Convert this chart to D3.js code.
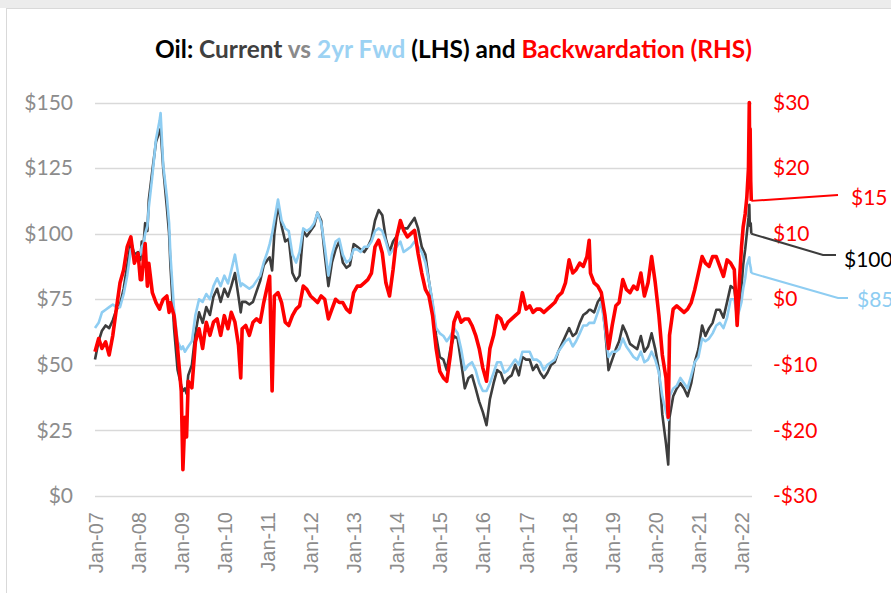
<!DOCTYPE html>
<html><head><meta charset="utf-8">
<script src="https://cdn.jsdelivr.net/npm/d3@7"></script>
<style>body{margin:0;background:#fff;} svg{display:block;}</style>
</head><body>
<script>
// ---------- DATA ----------
const dates = [
 "2007-01-01","2007-02-01","2007-03-01","2007-04-01","2007-05-01","2007-06-01","2007-07-01","2007-08-01","2007-09-01","2007-10-01","2007-11-01","2007-12-01",
 "2008-01-01","2008-01-20","2008-02-01","2008-02-15","2008-03-01","2008-03-20","2008-04-01","2008-05-01","2008-06-01","2008-07-01","2008-07-10","2008-08-01","2008-09-01","2008-09-20","2008-10-01","2008-11-01","2008-12-01",
 "2009-01-01","2009-01-15","2009-02-01","2009-02-15","2009-03-01","2009-04-01","2009-05-01","2009-06-01","2009-07-01","2009-08-01","2009-09-01","2009-10-01","2009-11-01","2009-12-01",
 "2010-01-01","2010-02-01","2010-03-01","2010-04-01","2010-05-01","2010-05-20","2010-06-01","2010-07-01","2010-08-01","2010-09-01","2010-10-01","2010-11-01","2010-12-01",
 "2011-01-01","2011-01-20","2011-02-10","2011-03-01","2011-04-01","2011-05-01","2011-06-01","2011-07-01","2011-08-01","2011-09-01","2011-10-01","2011-11-01","2011-12-01",
 "2012-01-01","2012-02-01","2012-03-01","2012-04-01","2012-05-01","2012-06-01","2012-07-01","2012-08-01","2012-09-01","2012-10-01","2012-11-01","2012-12-01",
 "2013-01-01","2013-02-01","2013-03-01","2013-04-01","2013-05-01","2013-06-01","2013-07-01","2013-08-01","2013-09-01","2013-10-01","2013-11-01","2013-12-01",
 "2014-01-01","2014-02-01","2014-03-01","2014-04-01","2014-05-01","2014-06-01","2014-07-01","2014-08-01","2014-09-01","2014-10-01","2014-11-01","2014-12-01",
 "2015-01-01","2015-02-01","2015-03-01","2015-04-01","2015-05-01","2015-06-01","2015-07-01","2015-08-01","2015-09-01","2015-10-01","2015-11-01","2015-12-01",
 "2016-01-01","2016-02-01","2016-03-01","2016-04-01","2016-05-01","2016-06-01","2016-07-01","2016-08-01","2016-09-01","2016-10-01","2016-11-01","2016-12-01",
 "2017-01-01","2017-02-01","2017-03-01","2017-04-01","2017-05-01","2017-06-01","2017-07-01","2017-08-01","2017-09-01","2017-10-01","2017-11-01","2017-12-01",
 "2018-01-01","2018-02-01","2018-03-01","2018-04-01","2018-05-01","2018-06-01","2018-06-20","2018-07-01","2018-08-01","2018-09-01","2018-10-01","2018-11-01","2018-12-01",
 "2019-01-01","2019-02-01","2019-03-01","2019-04-01","2019-05-01","2019-06-01","2019-07-01","2019-08-01","2019-09-01","2019-10-01","2019-11-01","2019-12-01",
 "2020-01-01","2020-02-01","2020-03-01","2020-04-01","2020-04-20","2020-05-01","2020-06-01","2020-07-01","2020-08-01","2020-09-01","2020-10-01","2020-11-01","2020-12-01",
 "2021-01-01","2021-02-01","2021-03-01","2021-04-01","2021-05-01","2021-06-01","2021-07-01","2021-08-01","2021-09-01","2021-10-01","2021-11-01","2021-11-25","2021-12-15",
 "2022-01-01","2022-01-15","2022-02-01","2022-02-15","2022-03-01","2022-03-08","2022-03-11","2022-03-15","2022-03-20","2022-03-25"
];
const current = [
 52,59,63,65,64,67,71,73,79,88,97,92,
 93,90,97,95,104,101,113,124,135,139,140,125,110,100,88,64,48,
 42,40,41,39,46,50,62,70,66,72,69,76,79,74,
 79,76,80,85,76,70,74,74,73,74,78,82,88,
 90,91,86,100,111,103,97,98,85,82,84,101,99,
 101,103,108,105,92,80,89,94,97,89,87,88,
 96,95,94,93,95,98,105,109,107,98,93,97,
 99,103,102,102,104,106,102,95,92,82,73,61,
 53,52,48,56,61,60,51,41,45,46,41,36,
 32,27,37,43,48,47,43,45,46,50,46,53,
 52,52,48,50,47,45,47,50,51,55,58,61,
 64,61,62,66,69,70,71,71,70,74,76,64,48,
 52,56,59,65,62,58,57,56,61,55,57,62,
 56,48,31,20,12,30,38,41,43,41,38,43,51,
 56,65,61,64,66,71,71,68,74,80,79,70,75,
 80,88,94,100,106,111,105,103,104,100
];
const forward2y = [
 64,66,70,71,72,73,72,72,77,84,94,91,
 92,92,95,96,100,103,110,122,136,143,146,126,114,104,92,71,59,
 56,57,55,56,57,59,69,75,74,77,75,80,83,80,
 84,81,86,92,84,80,81,80,79,80,82,84,89,
 93,96,100,105,113,105,102,101,92,89,93,102,101,
 102,104,108,104,95,84,92,97,98,92,89,90,
 94,94,93,95,95,97,101,102,101,97,92,94,
 95,97,93,94,95,97,95,93,89,82,74,64,
 62,61,59,61,64,62,56,48,50,51,48,43,
 40,40,43,47,51,51,47,48,50,52,50,55,
 55,55,52,52,51,48,50,51,52,55,57,59,
 60,57,59,62,65,65,66,66,66,70,74,64,53,
 55,55,56,60,57,55,53,52,55,51,52,55,
 52,47,38,32,29,38,41,42,45,43,41,46,51,
 53,60,59,60,62,65,66,64,68,75,75,68,71,
 74,79,83,88,90,91,89,88,87,85
];
const backwardation = [
 -8,-6,-7.5,-6.5,-8.5,-5.5,-1.5,2.5,4.5,8,9.5,5.5,
 7,3,3,6,8.5,2,5.5,1,-0.5,-1.5,-1,0,0.5,-2,-0.5,-2.5,-7.5,
 -14,-26,-18,-21,-12.5,-13.5,-6.5,-4.5,-7.5,-3.5,-5.5,-3.5,-3,-5.5,
 -2.5,-4.5,-2,-3.5,-7,-12,-4.5,-4,-5.5,-3.5,-3,-3.5,-0.5,
 2,3.5,-14,0.5,1,-0.5,-3.5,-4,-2.5,-1.5,-1,2,1.5,
 0.5,0,-0.5,0.5,0,-3,-1.5,0,-0.5,-0.5,-1.5,-2,
 1,2,2,2.5,3,4,8,9,7,2.5,0.5,4.5,
 9.5,12,10.5,9.5,10,10.5,7,4,1.5,0.5,-2.5,-7.5,
 -11,-12,-12.5,-8.5,-3.5,-2,-3.5,-3,-3,-4,-5.5,-7.5,
 -10.5,-12.5,-7.5,-5.5,-2.5,-3,-4.5,-3.5,-3,-2.5,-2,1,
 -1.5,-1,-2,-1.5,-1.5,-2,-1.5,-1,-0.5,0.5,1,2.5,
 6,4,4.5,5.5,5,6.5,9,4,2.5,2,1,-2.5,-7.5,
 -4,-1,-0.5,3,1.5,1,2,1.5,4,0.5,2.5,6.5,
 2.5,-2.5,-8.5,-12,-18,-5.5,-1.5,-1,-1.5,-2,-1.5,-0.5,1.5,
 4,6.5,5.5,5,6.5,6.5,5,3.5,6,5.5,4.5,-4,3,
 8,11,13,15.5,20,30,22,26,18,15
];
const leftTicks = [0,25,50,75,100,125,150];
const rightTicks = [-30,-20,-10,0,10,20,30];
const yearTicks = ["2007-01-01","2008-01-01","2009-01-01","2010-01-01","2011-01-01","2012-01-01","2013-01-01","2014-01-01",
                   "2015-01-01","2016-01-01","2017-01-01","2018-01-01","2019-01-01","2020-01-01","2021-01-01","2022-01-01"];
const titleParts = ["Oil: ","Current ","vs ","2yr Fwd ","(LHS) and ","Backwardation (RHS)"];
const endLabels = ["$15","$100","$85"];

// ---------- STYLE ----------
const C_CUR = "#3d3d3d", C_FWD = "#8ecdf2", C_BWD = "#ff0000";
const titleColors = ["#000000","#404040","#8a8a8a","#9cd2f3","#000000","#ff0000"];

const W = 891, H = 593;
const parse = d3.timeParse("%Y-%m-%d");
const D = dates.map(parse);

const svg = d3.select("body").append("svg").attr("width", W).attr("height", H);

// chart frame
svg.append("rect").attr("x",0).attr("y",0).attr("width",W).attr("height",H).attr("fill","#ffffff");
svg.append("rect").attr("x",0).attr("y",0).attr("width",W).attr("height",8).attr("fill","#ececec");
svg.append("rect").attr("x",6.5).attr("y",8.5).attr("width",W).attr("height",H).attr("fill","none").attr("stroke","#d9d9d9");

const plotL = 95, plotR = 752, plotT = 102.5, plotB = 496;
const x = d3.scaleTime().domain([parse("2007-01-01"), parse("2022-03-08")]).range([95, 749.3]);
const yL = d3.scaleLinear().domain([0,150]).range([plotB, plotT]);
const yR = d3.scaleLinear().domain([-30,30]).range([plotB, plotT]);

// gridlines
svg.append("g").selectAll("line").data(leftTicks).join("line")
  .attr("x1", plotL).attr("x2", plotR)
  .attr("y1", d => Math.round(yL(d))+0.5).attr("y2", d => Math.round(yL(d))+0.5)
  .attr("stroke","#d9d9d9").attr("stroke-width",1.5);

// left axis
const gL = svg.append("g").attr("transform",`translate(${plotL},0)`)
  .call(d3.axisLeft(yL).tickValues(leftTicks).tickSize(0).tickPadding(22).tickFormat(d => "$"+d));
gL.select(".domain").remove();
gL.selectAll("text").attr("font-family","Lato, 'Open Sans', sans-serif").attr("font-size",21).attr("fill","#8c8c8c");

// right axis
const gR = svg.append("g").attr("transform",`translate(${plotR},0)`)
  .call(d3.axisRight(yR).tickValues(rightTicks).tickSize(0).tickPadding(21)
        .tickFormat(d => d < 0 ? "-$"+(-d) : "$"+d));
gR.select(".domain").remove();
gR.selectAll("text").attr("font-family","Lato, 'Open Sans', sans-serif").attr("font-size",21).attr("fill","#ff0000");

// bottom axis
const gB = svg.append("g").attr("transform",`translate(0,${plotB})`)
  .call(d3.axisBottom(x).tickValues(yearTicks.map(parse)).tickSize(0).tickFormat(d3.timeFormat("Jan-%y")));
gB.select(".domain").remove();
gB.selectAll("text")
  .attr("font-family","'Liberation Sans', Arial, sans-serif").attr("font-size",20).attr("fill","#8c8c8c")
  .attr("text-anchor","end").attr("dy","0.35em").attr("y",0)
  .attr("transform","translate(0,16) rotate(-90)");

// series
const lineL = arr => d3.line().x((d,i) => x(D[i])).y((d) => yL(d))(arr);
const lineR = arr => d3.line().x((d,i) => x(D[i])).y((d) => yR(d))(arr);
svg.append("path").attr("d", lineL(current)).attr("fill","none").attr("stroke",C_CUR).attr("stroke-width",2.6).attr("stroke-linejoin","round");
svg.append("path").attr("d", lineL(forward2y)).attr("fill","none").attr("stroke",C_FWD).attr("stroke-width",2.6).attr("stroke-linejoin","round");
svg.append("path").attr("d", lineR(backwardation)).attr("fill","none").attr("stroke",C_BWD).attr("stroke-width",3.6).attr("stroke-linejoin","round");

// end annotations
const n = D.length - 1, xe = x(D[n]);
const ann = svg.append("g").attr("fill","none").attr("stroke-width",2);
ann.append("polyline").attr("points", `${xe},${yR(backwardation[n])} 838,195`).attr("stroke",C_BWD);
ann.append("polyline").attr("points", `${xe},${yL(current[n])} 823,255 836,255`).attr("stroke",C_CUR);
ann.append("polyline").attr("points", `${xe},${yL(forward2y[n])} 838,298 848,298`).attr("stroke",C_FWD);
const annT = svg.append("g").attr("font-family","Lato, 'Open Sans', sans-serif").attr("font-size",21).attr("dominant-baseline","central");
annT.append("text").attr("x",851).attr("y",196).attr("fill",C_BWD).text(endLabels[0]);
annT.append("text").attr("x",844).attr("y",258).attr("fill","#000").text(endLabels[1]);
annT.append("text").attr("x",857).attr("y",298).attr("fill",C_FWD).text(endLabels[2]);

// title
const title = svg.append("text").attr("x", 453.5).attr("y", 58).attr("text-anchor","middle")
  .attr("font-family","Lato, 'Open Sans', sans-serif").attr("font-weight",700).attr("font-size",24)
  .style("white-space","pre");
titleParts.forEach((t,i) => title.append("tspan").attr("fill", titleColors[i]).text(t));
const tw = title.node().getComputedTextLength();
title.attr("font-size", 24 * 597 / tw);
</script>
</body></html>
